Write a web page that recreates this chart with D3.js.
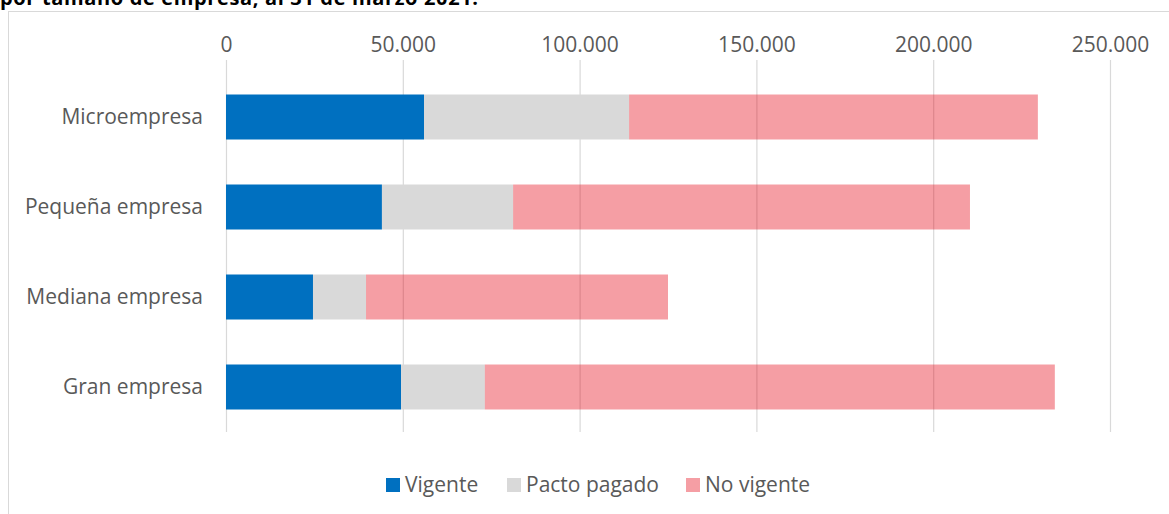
<!DOCTYPE html>
<html lang="es">
<head>
<meta charset="utf-8">
<title>Pactos por tamaño de empresa</title>
<script src="https://d3js.org/d3.v7.min.js"></script>
<style>
  body { margin: 0; background: #fff; }
  text { font-family: "Open Sans", sans-serif; }
</style>
</head>
<body>
<script>
// data
var categories = ["Microempresa", "Pequeña empresa", "Mediana empresa", "Gran empresa"];
var seriesNames = ["Vigente", "Pacto pagado", "No vigente"];
var vigente = [56000, 44100, 24600, 49500];
var pactoPagado = [58000, 37100, 15000, 23700];
var noVigente = [115600, 129200, 85400, 161200];
var tickValues = [0, 50000, 100000, 150000, 200000, 250000];

var colors = ["#0070C0", "#D9D9D9", "#E6000F"];
var opac = [1, 1, 0.38];

var w = 1169, h = 514;

var svg = d3.select("body").append("svg")
  .attr("width", w)
  .attr("height", h);

// title (clipped at the top like in the source)
svg.append("text")
  .attr("x", 0)
  .attr("y", 5)
  .attr("font-size", "20px")
  .attr("font-weight", "bold")
  .attr("fill", "#000")
  .attr("textLength", 478)
  .text("por tamaño de empresa, al 31 de marzo 2021.");

// chart area border
svg.append("rect")
  .attr("x", 8.5)
  .attr("y", 11.5)
  .attr("width", w)
  .attr("height", h)
  .attr("fill", "none")
  .attr("stroke", "#D9D9D9");

var x = d3.scaleLinear().domain([0, 250000]).range([226, 1110]);
var y = d3.scaleBand().domain(categories).range([72, 432]).paddingInner(0.5).paddingOuter(0.25);

var fmt = function(d) { return d3.format(",")(d).replace(/,/g, "."); };

// gridlines
svg.append("g")
  .selectAll("line")
  .data(tickValues)
  .enter()
  .append("line")
  .attr("x1", function(d) { return x(d) + 0.5; })
  .attr("x2", function(d) { return x(d) + 0.5; })
  .attr("y1", 60)
  .attr("y2", 432)
  .attr("stroke", "#D9D9D9")
  .attr("stroke-width", 1.2);

// top axis labels
var xAxis = d3.axisTop(x).tickValues(tickValues).tickFormat(fmt).tickSize(0).tickPadding(0);
var gx = svg.append("g")
  .attr("transform", "translate(0,52)")
  .call(xAxis);
gx.select(".domain").remove();
gx.selectAll("text")
  .attr("font-family", "Open Sans, sans-serif")
  .attr("font-size", "21px")
  .attr("fill", "#595959");

// category labels
var yAxis = d3.axisLeft(y).tickSize(0).tickPadding(0);
var gy = svg.append("g")
  .attr("transform", "translate(203,0)")
  .call(yAxis);
gy.select(".domain").remove();
gy.selectAll("text")
  .attr("font-family", "Open Sans, sans-serif")
  .attr("font-size", "21px")
  .attr("fill", "#595959");

// stacked bars
var rows = categories.map(function(c, i) {
  return { cat: c, "Vigente": vigente[i], "Pacto pagado": pactoPagado[i], "No vigente": noVigente[i] };
});
var stack = d3.stack().keys(seriesNames)(rows);

svg.append("g")
  .selectAll("g")
  .data(stack)
  .enter()
  .append("g")
  .attr("fill", function(d, i) { return colors[i]; })
  .attr("fill-opacity", function(d, i) { return opac[i]; })
  .selectAll("rect")
  .data(function(d) { return d; })
  .enter()
  .append("rect")
  .attr("x", function(d) { return x(d[0]); })
  .attr("width", function(d) { return x(d[1]) - x(d[0]); })
  .attr("y", function(d) { return y(d.data.cat); })
  .attr("height", y.bandwidth());

// legend
var legendX = [386, 507, 686];
var legend = svg.append("g")
  .selectAll("g")
  .data(seriesNames)
  .enter()
  .append("g")
  .attr("transform", function(d, i) { return "translate(" + legendX[i] + ",478)"; });

legend.append("rect")
  .attr("width", 14)
  .attr("height", 14)
  .attr("fill", function(d, i) { return colors[i]; })
  .attr("fill-opacity", function(d, i) { return opac[i]; });

legend.append("text")
  .attr("x", 19)
  .attr("y", 14)
  .attr("font-size", "21px")
  .attr("fill", "#595959")
  .text(function(d) { return d; });
</script>
</body>
</html>
